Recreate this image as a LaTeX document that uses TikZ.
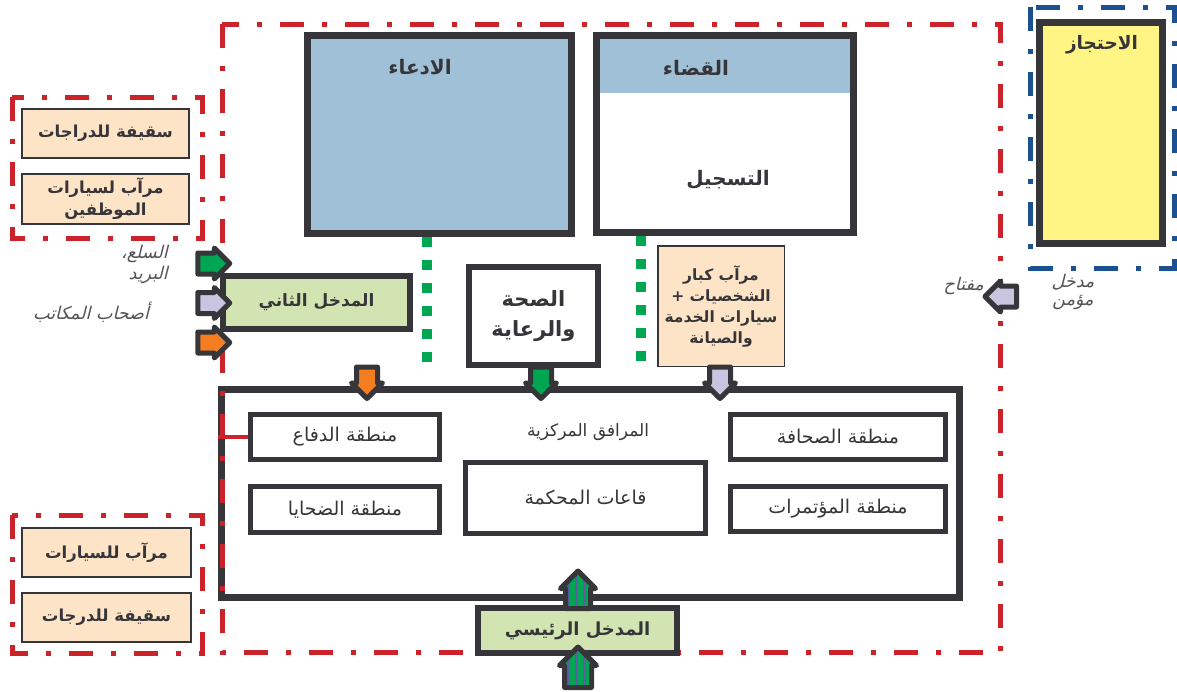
\documentclass[tikz,border=0pt]{standalone}
\usepackage{fontspec}
\usetikzlibrary{shapes.arrows,patterns.meta}
\TeXXeTstate=1
\newfontfamily\arabicfont[Script=Arabic]{DejaVu Sans}
\newfontfamily\arabicslant[Script=Arabic,FakeSlant=0.25]{DejaVu Sans}
\newcommand{\ar}[1]{\beginR #1\endR}
\definecolor{darkline}{HTML}{363539}
\definecolor{framered}{HTML}{CC2229}
\definecolor{frameblue}{HTML}{1B5191}
\definecolor{roomblue}{HTML}{A0C0D7}
\definecolor{cellyellow}{HTML}{FEF584}
\definecolor{peach}{HTML}{FDE4C7}
\definecolor{lightgreen}{HTML}{D2E4B2}
\definecolor{arrowgreen}{HTML}{00A651}
\definecolor{lilac}{HTML}{C9C5E0}
\definecolor{arroworange}{HTML}{F47D20}
\definecolor{stripeblue}{HTML}{5B5EA6}
\tikzset{
  thickroom/.style={draw=darkline,line width=7pt,inner sep=0pt,text=darkline,
    font=\arabicfont\bfseries\fontsize{17}{21}\selectfont},
  thinroom/.style={draw=darkline,line width=1.5pt,fill=peach,inner sep=0pt,text=darkline,
    align=center,font=\arabicfont\bfseries\fontsize{16.5}{22}\selectfont},
  zone/.style={draw=darkline,line width=5pt,fill=white,inner sep=0pt,text=darkline,
    font=\arabicfont\fontsize{19}{22}\selectfont},
  roomtext/.style={text=darkline,inner sep=0pt,font=\arabicfont\bfseries\fontsize{20}{24}\selectfont},
  plaintext/.style={text=darkline,inner sep=0pt,font=\arabicfont\fontsize{17}{20}\selectfont},
  sidetext/.style={text=darkline!85,inner sep=0pt,font=\arabicslant\fontsize{17.5}{20}\selectfont},
  fence/.style={draw=framered,line width=5pt,dash pattern=on 24pt off 18pt on 5pt off 18pt},
  guard/.style={draw=frameblue,line width=5pt,dash pattern=on 24pt off 18pt on 5pt off 18pt},
  link/.style={draw=arrowgreen,line width=10pt,dash pattern=on 10pt off 13pt},
  flow/.style={single arrow,draw=darkline,line width=5pt,line join=round,inner sep=8pt,
    minimum height=32pt,single arrow head extend=5pt},
  striped/.style={flow,inner sep=11pt,minimum height=28pt,shape border rotate=90,
    preaction={fill=arrowgreen},pattern={Lines[angle=90,distance=8pt,line width=3pt]},
    pattern color=stripeblue}
}
\begin{document}
\begin{tikzpicture}[x=1pt,y=-1pt]
\useasboundingbox (0,0) rectangle (1177,691);
\node[thickroom,fill=roomblue,minimum width=264pt,minimum height=198pt] (adaa) at (439.5,134.5) {};
\node[roomtext] (adaatxt) at (420,67) {\ar{الادعاء}};
\node[thickroom,fill=white,minimum width=257pt,minimum height=197pt,
  path picture={\fill[roomblue] (path picture bounding box.north west) rectangle ([yshift=-57pt]path picture bounding box.north east);}] (qada) at (725,134) {};
\node[roomtext] (qadatxt) at (696,68) {\ar{القضاء}};
\node[roomtext] (tasjil) at (728,180) {\ar{التسجيل}};
\node[thickroom,fill=cellyellow,minimum width=123pt,minimum height=221pt] (ihtijaz) at (1101,133) {};
\node[roomtext,font=\arabicfont\bfseries\fontsize{18.5}{22}\selectfont] (ihtijaztxt) at (1102,45) {\ar{الاحتجاز}};
\draw[guard] (1030,7) rectangle (1174,268);
\node[thickroom,fill=white,minimum width=738pt,minimum height=208pt] (centre) at (590.5,493.5) {};
\node[plaintext] (centretxt) at (588,432) {\ar{المرافق المركزية}};
\node[zone,minimum width=189pt,minimum height=45pt] (defence) at (345,437) {\ar{منطقة الدفاع}};
\node[zone,minimum width=189pt,minimum height=46pt] (victims) at (345,509.5) {\ar{منطقة الضحايا}};
\node[zone,minimum width=240pt,minimum height=71pt] (halls) at (585.5,498) {\ar{قاعات المحكمة}};
\node[zone,minimum width=215pt,minimum height=45pt] (press) at (838,437) {\ar{منطقة الصحافة}};
\node[zone,minimum width=215pt,minimum height=45pt] (conf) at (838,509) {\ar{منطقة المؤتمرات}};
\draw[fence] (222,24) rectangle (1000,652);
\draw[fence] (12,97) rectangle (202,238);
\draw[fence] (12,515) rectangle (202,653);
\draw[framered,line width=3.5pt] (defence.west) -- (defence.west -| centre.west);
\node[thinroom,minimum width=167pt,minimum height=49pt] (bikes) at (105.5,133.5) {\ar{سقيفة للدراجات}};
\node[thinroom,minimum width=167pt,minimum height=50pt] (staff) at (105.5,199) {\ar{مرآب لسيارات}\\\ar{الموظفين}};
\node[thinroom,minimum width=169pt,minimum height=49pt] (cars) at (106.5,552.5) {\ar{مرآب للسيارات}};
\node[thinroom,minimum width=169pt,minimum height=49pt] (bikesb) at (106.5,617.5) {\ar{سقيفة للدرجات}};
\node[thickroom,line width=6pt,fill=white,minimum width=129pt,minimum height=98pt,align=center,
  font=\arabicfont\bfseries\fontsize{21}{30}\selectfont] (health) at (533.5,316) {\ar{الصحة}\\\ar{والرعاية}};
\node[thinroom,minimum width=126.5pt,minimum height=120.5pt,font=\arabicfont\bfseries\fontsize{15.5}{21}\selectfont] (vip) at (721,306) {\ar{مرآب كبار}\\\ar{الشخصيات +}\\\ar{سيارات الخدمة}\\\ar{والصيانة}};
\node[thickroom,line width=6pt,fill=lightgreen,minimum width=187pt,minimum height=53pt] (side) at (316.5,302.5) {\ar{المدخل الثاني}};
\node[thickroom,line width=6pt,fill=lightgreen,minimum width=199pt,minimum height=45pt,
  font=\arabicfont\bfseries\fontsize{18}{21}\selectfont] (mainentry) at (577.5,630.5) {\ar{المدخل الرئيسي}};
\coordinate (adaaend) at (427,366);
\coordinate (qadaend) at (641,366);
\draw[link] (adaa.south -| adaaend) -- (adaaend);
\draw[link] (qada.south -| qadaend) -- (qadaend);
\node[flow,fill=arrowgreen] (goods) at (208.5,263.5) {};
\node[flow,fill=lilac] (offices) at (208.5,303) {};
\node[flow,fill=arroworange] (third) at (208.5,342.5) {};
\node[flow,minimum height=18pt,shape border rotate=270,fill=arroworange] (downa) at (367,377.5) {};
\node[flow,minimum height=18pt,shape border rotate=270,fill=arrowgreen] (downb) at (541,377.5) {};
\node[flow,minimum height=18pt,shape border rotate=270,fill=lilac] (downc) at (720,377.5) {};
\node[flow,minimum height=23pt,shape border rotate=180,fill=lilac] (keyin) at (1006,296.5) {};
\node[striped] (upa) at (578,596) {};
\node[striped] (upb) at (578,674) {};
\node[sidetext,anchor=east] (goodstxt) at (168,254) {\ar{السلع،}};
\node[sidetext,anchor=east] (posttxt) at (168,275) {\ar{البريد}};
\node[sidetext] (officetxt) at (91,312) {\ar{أصحاب المكاتب}};
\node[sidetext,anchor=east] (keytxt) at (984,286) {\ar{مفتاح}};
\node[sidetext] (securetxt) at (1073,282) {\ar{مدخل}};
\node[sidetext] (securetxtb) at (1073,302) {\ar{مؤمن}};
\end{tikzpicture}
\end{document}
